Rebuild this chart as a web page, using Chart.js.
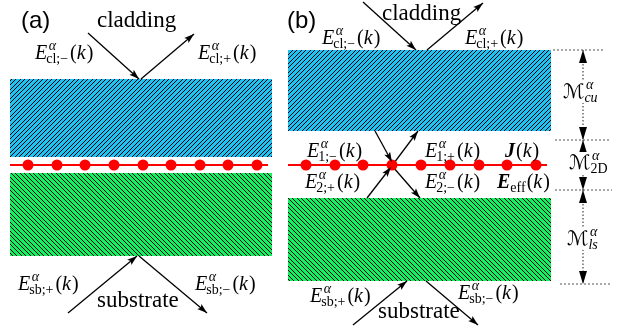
<!DOCTYPE html>
<html>
<head>
<meta charset="utf-8">
<script src="https://cdn.jsdelivr.net/npm/chart.js@4.4.1/dist/chart.umd.min.js"></script>
<style>
html,body{margin:0;padding:0;background:#fff;}
canvas{display:block;}
</style>
</head>
<body>
<canvas id="slab-chart" width="628" height="328"></canvas>
<script>
// layers: x from, x to, top, bottom (figure units)
var claddingLayers = [[10, 272, 79, 157], [288, 551, 50, 131]];
var substrateLayers = [[10, 272, 173, 256], [288, 551, 198, 281]];

// the 2D sheet: wire x from, x to ; dots along it
var sheetY = 165;
var sheetWires = [[10, 268], [288, 547]];
var sheetDots = [28, 57, 85, 114, 143, 171, 200, 228, 257, 306, 335, 363, 392, 421, 450, 479, 507, 536];

// rays x0,y0 -> x1,y1, head sits at x1,y1
var rays = [
    [88, 33, 139, 79], [141, 79, 194, 34], [68, 313, 137, 256], [139, 256, 207, 313],
    [363, 2, 416, 50], [427, 50, 483, 3], [375, 131, 392, 162], [394, 163, 418, 131],
    [367, 198, 391, 167], [393, 167, 420, 198], [353, 325, 407, 281], [426, 281, 478, 325]
];

// reference planes of panel (b): x from, x to, y
var planes = [[553, 605, 50], [555, 610, 140], [555, 612, 190], [560, 612, 284]];
// thickness arrows: x, y top, y bottom
var spans = [[583, 50, 140], [583, 140, 190], [583, 190, 284]];

// plain words
var words = [
    {x: 21, y: 28, t: '(a)', f: '24px "Liberation Sans"'},
    {x: 287, y: 28, t: '(b)', f: '24px "Liberation Sans"'},
    {x: 97, y: 27, t: 'cladding', f: '23px "Liberation Serif"'},
    {x: 97, y: 307, t: 'substrate', f: '23px "Liberation Serif"'},
    {x: 382, y: 20, t: 'cladding', f: '23px "Liberation Serif"'},
    {x: 378, y: 318, t: 'substrate', f: '23px "Liberation Serif"'}
];

// math labels
var fields = [
    {x: 35, y: 59, b: 'E', sup: 'α', sub: 'cl;−', arg: 'k'},
    {x: 198, y: 59, b: 'E', sup: 'α', sub: 'cl;+', arg: 'k'},
    {x: 18, y: 290, b: 'E', sup: 'α', sub: 'sb;+', arg: 'k'},
    {x: 195, y: 290, b: 'E', sup: 'α', sub: 'sb;−', arg: 'k'},
    {x: 322, y: 44, b: 'E', sup: 'α', sub: 'cl;−', arg: 'k'},
    {x: 465, y: 44, b: 'E', sup: 'α', sub: 'cl;+', arg: 'k'},
    {x: 307, y: 157, b: 'E', sup: 'α', sub: '1;−', arg: 'k'},
    {x: 425, y: 157, b: 'E', sup: 'α', sub: '1;+', arg: 'k'},
    {x: 505, y: 157, b: 'J', bold: true, arg: 'k'},
    {x: 305, y: 188, b: 'E', sup: 'α', sub: '2;+', arg: 'k'},
    {x: 425, y: 188, b: 'E', sup: 'α', sub: '2;−', arg: 'k'},
    {x: 497, y: 188, b: 'E', bold: true, sub: 'eff', arg: 'k'},
    {x: 310, y: 302, b: 'E', sup: 'α', sub: 'sb;+', arg: 'k'},
    {x: 458, y: 299, b: 'E', sup: 'α', sub: 'sb;−', arg: 'k'},
    {x: 563, y: 98, b: 'ℳ', sup: 'α', sub: 'cu', subIt: true, bg: true},
    {x: 569, y: 169, b: 'ℳ', sup: 'α', sub: '2D', bg: true},
    {x: 567, y: 245, b: 'ℳ', sup: 'α', sub: 'ls', subIt: true, bg: true}
];

// 1px staircase hatch, two lines per 9px tile (~4.5px pitch)
function hatch(color, flip) {
    var n = 9;
    var c = document.createElement('canvas');
    c.width = n; c.height = n;
    var g = c.getContext('2d');
    g.fillStyle = color;
    g.fillRect(0, 0, n, n);
    g.fillStyle = '#000';
    for (var y = 0; y < n; y++) {
        for (var x = 0; x < n; x++) {
            var k = flip ? (x - y + n) % n : (x + y) % n;
            if (k === 0 || k === 4) g.fillRect(x, y, 1, 1);
        }
    }
    return g.createPattern(c, 'repeat');
}

var ctx = document.getElementById('slab-chart');
var blueHatch = hatch('#20c2f4', false);
var greenHatch = hatch('#16f05e', true);

var sets = [];
// dots on top
sets.push({
    data: sheetDots.map(function (x) { return {x: x, y: sheetY}; }),
    showLine: false, pointRadius: 5.5, pointBackgroundColor: '#ff0000',
    pointBorderWidth: 0, order: 0
});
rays.forEach(function (r) {
    sets.push({data: [{x: r[0], y: r[1]}, {x: r[2], y: r[3]}], borderColor: '#000',
        borderWidth: 1.3, pointRadius: 0, order: 1});
});
sheetWires.forEach(function (w) {
    sets.push({data: [{x: w[0], y: sheetY}, {x: w[1], y: sheetY}], borderColor: '#ff0000',
        borderWidth: 2, pointRadius: 0, order: 2});
});
planes.forEach(function (p) {
    sets.push({data: [{x: p[0], y: p[2]}, {x: p[1], y: p[2]}], borderColor: '#555',
        borderWidth: 1, borderDash: [2, 2], pointRadius: 0, order: 3});
});
spans.forEach(function (s) {
    sets.push({data: [{x: s[0], y: s[1]}, {x: s[0], y: s[2]}], borderColor: '#444',
        borderWidth: 1.2, borderDash: [1.5, 2], pointRadius: 0, order: 3});
});
claddingLayers.forEach(function (l) {
    sets.push({data: [{x: l[0], y: l[2]}, {x: l[1], y: l[2]}], fill: {value: l[3]},
        backgroundColor: blueHatch, borderWidth: 0, pointRadius: 0, order: 5});
});
substrateLayers.forEach(function (l) {
    sets.push({data: [{x: l[0], y: l[2]}, {x: l[1], y: l[2]}], fill: {value: l[3]},
        backgroundColor: greenHatch, borderWidth: 0, pointRadius: 0, order: 5});
});

function head(g, x0, y0, x1, y1, len, hw, notch) {
    var a = Math.atan2(y1 - y0, x1 - x0);
    g.save();
    g.translate(x1, y1);
    g.rotate(a);
    g.beginPath();
    g.moveTo(0, 0);
    g.lineTo(-len, hw);
    g.lineTo(-len * notch, 0);
    g.lineTo(-len, -hw);
    g.closePath();
    g.fillStyle = '#000';
    g.fill();
    g.restore();
}

var figureText = {
    id: 'figureText',
    afterDatasetsDraw: function (chart) {
        var g = chart.ctx, sx = chart.scales.x, sy = chart.scales.y;
        function P(x, y) { return [sx.getPixelForValue(x), sy.getPixelForValue(y)]; }
        g.save();
        rays.forEach(function (r) {
            var a = P(r[0], r[1]), b = P(r[2], r[3]);
            head(g, a[0], a[1], b[0], b[1], 10, 3.3, 0.8);
        });
        spans.forEach(function (s) {
            var a = P(s[0], s[1]), b = P(s[0], s[2]);
            head(g, b[0], b[1], a[0], a[1], 13, 4, 1);
            head(g, a[0], a[1], b[0], b[1], 13, 4, 1);
        });
        g.fillStyle = '#000';
        g.textBaseline = 'alphabetic';
        words.forEach(function (w) {
            var p = P(w.x, w.y);
            g.font = w.f;
            g.fillText(w.t, p[0], p[1]);
        });
        fields.forEach(function (m) {
            var p = P(m.x, m.y), x = p[0], y = p[1];
            var serif = '"Liberation Serif", "DejaVu Serif"';
            var baseFont = m.b === 'ℳ' ? '20px "DejaVu Sans"' :
                (m.bold ? 'italic bold 20px ' : 'italic 20px ') + serif;
            g.font = baseFont;
            var bw = g.measureText(m.b).width;
            var supW = 0, subW = 0;
            g.font = 'italic 14px ' + serif;
            if (m.sup) supW = g.measureText(m.sup).width + 1.5;
            g.font = (m.subIt ? 'italic ' : '') + '14px ' + serif;
            if (m.sub) subW = g.measureText(m.sub).width;
            var argW = 0;
            if (m.arg) {
                g.font = '20px ' + serif;
                argW = g.measureText('()').width;
                g.font = 'italic 20px ' + serif;
                argW += g.measureText(m.arg).width + 1;
            }
            var total = bw + Math.max(supW, subW) + 1 + argW;
            if (m.bg) {
                g.fillStyle = '#fff';
                g.fillRect(x - 1, y - 17, total + 2, 22);
                g.fillStyle = '#000';
            }
            g.font = baseFont;
            g.fillText(m.b, x, y);
            x += bw;
            if (m.sup) {
                g.font = 'italic 14px ' + serif;
                g.fillText(m.sup, x + 1.5, y - 9);
            }
            if (m.sub) {
                g.font = (m.subIt ? 'italic ' : '') + '14px ' + serif;
                g.fillText(m.sub, x - (m.b === 'E' && !m.bold ? 1 : 0), y + 4);
            }
            x += Math.max(supW, subW) + 1;
            if (m.arg) {
                g.font = '20px ' + serif;
                g.fillText('(', x, y);
                x += g.measureText('(').width;
                g.font = 'italic 20px ' + serif;
                g.fillText(m.arg, x, y);
                x += g.measureText(m.arg).width + 1;
                g.font = '20px ' + serif;
                g.fillText(')', x, y);
            }
        });
        g.restore();
    }
};

var slab = new Chart(ctx, {
    type: 'line',
    data: {datasets: sets},
    options: {
        responsive: false,
        animation: false,
        events: [],
        layout: {padding: 0, autoPadding: false},
        elements: {line: {tension: 0}},
        scales: {
            x: {type: 'linear', min: 0, max: 628, display: false},
            y: {type: 'linear', min: 0, max: 328, reverse: true, display: false}
        },
        plugins: {legend: {display: false}, tooltip: {enabled: false}}
    },
    plugins: [figureText]
});
</script>
</body>
</html>
